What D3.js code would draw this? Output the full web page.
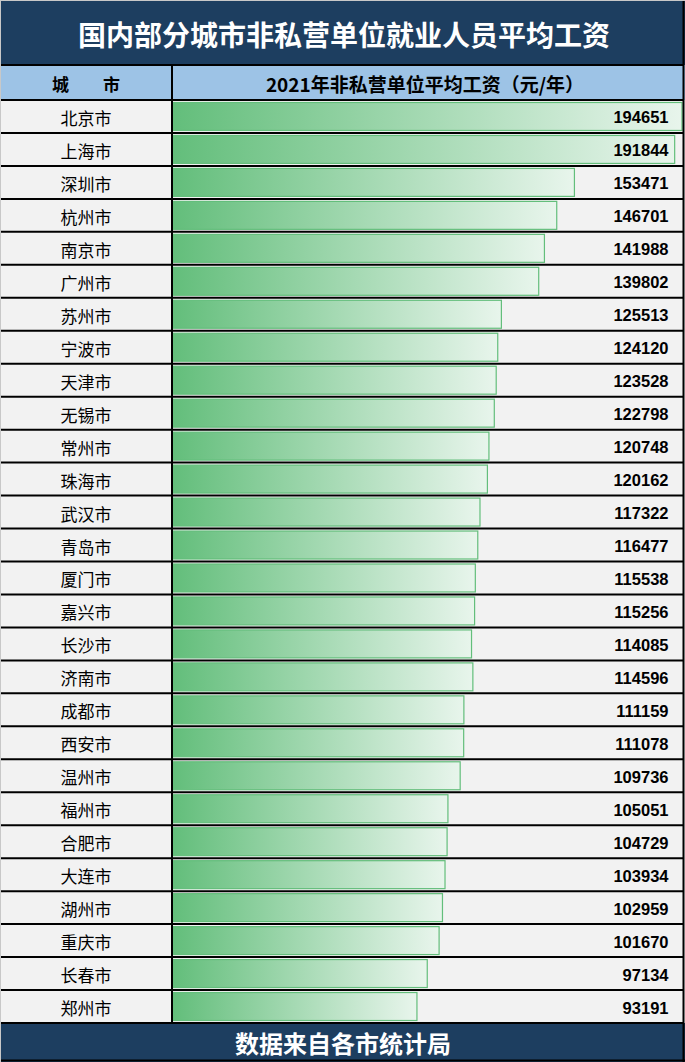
<!DOCTYPE html>
<html><head><meta charset="utf-8">
<script src="https://cdn.jsdelivr.net/npm/d3@7"></script>
<style>body{margin:0;background:#fff}svg{display:block}</style>
</head><body>
<script>
const title = "国内部分城市非私营单位就业人员平均工资";
const headerCity = "城　　市";
const headerValue = "2021年非私营单位平均工资（元/年）";
const footer = "数据来自各市统计局";
const cities = ["北京市","上海市","深圳市","杭州市","南京市","广州市","苏州市","宁波市","天津市","无锡市","常州市","珠海市","武汉市","青岛市","厦门市","嘉兴市","长沙市","济南市","成都市","西安市","温州市","福州市","合肥市","大连市","湖州市","重庆市","长春市","郑州市"];
const wages = [194651,191844,153471,146701,141988,139802,125513,124120,123528,122798,120748,120162,117322,116477,115538,115256,114085,114596,111159,111078,109736,105051,104729,103934,102959,101670,97134,93191];

const W = 685, H = 1062;
const svg = d3.select("body").append("svg").attr("width", W).attr("height", H);
const defs = svg.append("defs");
const grad = defs.append("linearGradient").attr("id","bar").attr("x1","0").attr("x2","1").attr("y1","0").attr("y2","0");
grad.append("stop").attr("offset","0").attr("stop-color","#63be7b");
grad.append("stop").attr("offset","1").attr("stop-color","#e8f5ec");

const titleH = 65, headerBottom = 100, tableBottom = 1023, divX = 172, rightX = 683;
const y = d3.scaleBand().domain(cities).range([headerBottom, tableBottom]).padding(0);
const x = d3.scaleLinear().domain([0, d3.max(wages)]).range([173.5, 682]);

// background
svg.append("rect").attr("x",0).attr("y",0).attr("width",W).attr("height",H).attr("fill","#f2f2f2");
svg.append("rect").attr("x",0).attr("y",0).attr("width",W).attr("height",titleH).attr("fill","#1d3e60");
svg.append("rect").attr("x",0).attr("y",titleH).attr("width",W).attr("height",headerBottom-titleH).attr("fill","#9dc3e6");
svg.append("rect").attr("x",0).attr("y",tableBottom).attr("width",W).attr("height",H-tableBottom).attr("fill","#1d3e60");

svg.append("text").attr("x",344).attr("y",titleH/2+1).attr("text-anchor","middle").attr("dominant-baseline","central")
  .attr("fill","#fff").attr("font-family","'Noto Sans CJK SC'").attr("font-weight","bold").attr("font-size",28).text(title);
svg.append("text").attr("x",86).attr("y",(titleH+headerBottom)/2+1).attr("text-anchor","middle").attr("dominant-baseline","central")
  .attr("fill","#000").attr("font-family","'Noto Sans CJK SC'").attr("font-weight","bold").attr("font-size",17).text(headerCity);
svg.append("text").attr("x",425).attr("y",(titleH+headerBottom)/2+1).attr("text-anchor","middle").attr("dominant-baseline","central")
  .attr("fill","#000").attr("font-family","'Noto Sans CJK SC'").attr("font-weight","bold").attr("font-size",19).text(headerValue);
svg.append("text").attr("x",343).attr("y",(tableBottom+1060)/2+1).attr("text-anchor","middle").attr("dominant-baseline","central")
  .attr("fill","#fff").attr("font-family","'Noto Sans CJK SC'").attr("font-weight","bold").attr("font-size",24).text(footer);

const rows = svg.append("g").selectAll("g").data(cities).join("g");
rows.append("rect")
  .attr("x", x(0)).attr("y", d => y(d) + 2.5)
  .attr("width", (d,i) => x(wages[i]) - x(0)).attr("height", y.bandwidth() - 5)
  .attr("fill","url(#bar)").attr("stroke","#63be7b").attr("stroke-width",1.2);
rows.append("text").attr("x",86).attr("y", d => y(d) + y.bandwidth()/2 + 1)
  .attr("text-anchor","middle").attr("dominant-baseline","central")
  .attr("font-family","'Noto Sans CJK SC'").attr("font-size",17).attr("fill","#000").text(d => d);
rows.append("text").attr("x",668.5).attr("y", d => y(d) + y.bandwidth()/2 + 1)
  .attr("text-anchor","end").attr("dominant-baseline","central")
  .attr("font-family","'Liberation Sans', Arial").attr("font-weight","bold").attr("font-size",16.5).attr("fill","#000")
  .text((d,i) => wages[i]);

// grid lines
const lines = svg.append("g").attr("stroke","#000").attr("stroke-width",2);
const hs = [titleH, ...cities.map(c => y(c)), tableBottom];
lines.selectAll("line.h").data(hs).join("line").attr("class","h")
  .attr("x1",0).attr("x2",rightX).attr("y1",d=>d).attr("y2",d=>d);
lines.append("line").attr("x1",divX).attr("x2",divX).attr("y1",titleH).attr("y2",tableBottom);
lines.append("line").attr("x1",rightX+0.5).attr("x2",rightX+0.5).attr("y1",0).attr("y2",H);
lines.append("line").attr("x1",0).attr("x2",W).attr("y1",1060.5).attr("y2",1060.5);
svg.append("line").attr("x1",0.5).attr("x2",0.5).attr("y1",0).attr("y2",H).attr("stroke","#c8c8c8");
svg.append("line").attr("x1",0).attr("x2",W).attr("y1",0.5).attr("y2",0.5).attr("stroke","#c8c8c8");
</script>
</body></html>
